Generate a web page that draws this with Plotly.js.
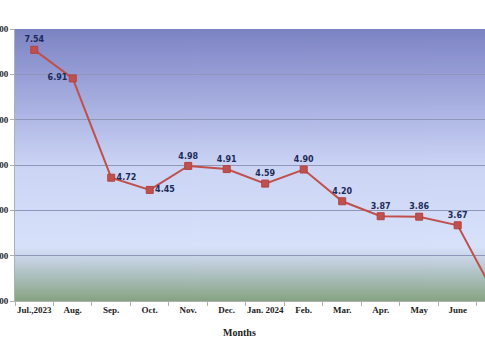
<!DOCTYPE html>
<html>
<head>
<meta charset="utf-8">
<script src="https://cdn.plot.ly/plotly-3.0.1.min.js"></script>
<style>
html,body{margin:0;padding:0;background:#fff;overflow:hidden;}
#chart{width:485px;height:360px;}
</style>
</head>
<body>
<div id="chart"></div>
<script>
// ---- data ----
const months = ["Jul.,2023","Aug.","Sep.","Oct.","Nov.","Dec.","Jan. 2024","Feb.","Mar.","Apr.","May","June","July"];
const values = [7.54, 6.91, 4.72, 4.45, 4.98, 4.91, 4.59, 4.90, 4.20, 3.87, 3.86, 3.67, 2.08];
const yTicks = [2, 3, 4, 5, 6, 7, 8];
const xTitle = "Months";

// ---- background gradient (style only) ----
function gradientURL(){
  const c = document.createElement('canvas');
  c.width = 4; c.height = 272;
  const g = c.getContext('2d');
  const lg = g.createLinearGradient(0,0,0,272);
  lg.addColorStop(0.00,'#7c83c3');
  lg.addColorStop(0.25,'#a3abde');
  lg.addColorStop(0.50,'#cbd4f4');
  lg.addColorStop(0.80,'#d7e1fa');
  lg.addColorStop(0.86,'#c0cedb');
  lg.addColorStop(1.00,'#86a383');
  g.fillStyle = lg; g.fillRect(0,0,4,272);
  return c.toDataURL();
}

const labelPos = ["top center","middle left","middle right","middle right","top center","top center","top center","top center","top center","top center","top center","top center","top center"];
// the last point lies beyond the visible edge, so its label is not drawn
const labels = values.map((v, i) => i < values.length - 1 ? v.toFixed(2) : "");

const trace = {
  type:'scatter', mode:'lines+markers+text',
  x: months, y: values,
  text: labels,
  textposition: labelPos,
  textfont:{family:'DejaVu Sans', size:8, color:'#1c2a58', weight:'bold'},
  line:{color:'#c0504d', width:2},
  marker:{symbol:'square', size:7, color:'#c0504d', line:{color:'#b04440', width:1}},
  cliponaxis:true,
  hoverinfo:'skip'
};

const layout = {
  width:485, height:360,
  margin:{l:15, r:0, t:29, b:59, pad:0},
  paper_bgcolor:'#ffffff',
  plot_bgcolor:'rgba(0,0,0,0)',
  showlegend:false,
  images:[{source:gradientURL(), xref:'paper', yref:'paper', x:0, y:1, sizex:1, sizey:1, sizing:'stretch', xanchor:'left', yanchor:'top', layer:'below'}],
  xaxis:{
    type:'category', range:[-0.5, 11.71], automargin:false,
    tickson:'boundaries', ticks:'outside', ticklen:4, tickcolor:'#b0b0b0',
    showline:true, linecolor:'#b0b0b0', linewidth:1,
    showgrid:false,
    tickfont:{family:'Liberation Serif', size:9, color:'#222', weight:'bold'},
    tickangle:0
  },
  yaxis:{
    range:[2,8], tickvals:yTicks, tickformat:'.2f', automargin:false,
    ticks:'outside', ticklen:4, tickcolor:'#b0b0b0',
    showline:true, linecolor:'#b0b0b0', linewidth:1,
    gridcolor:'#8f96b8', gridwidth:1, zeroline:false,
    tickfont:{family:'Liberation Serif', size:9, color:'#222', weight:'bold'}
  },
  annotations:[{
    text:xTitle, xref:'paper', yref:'paper', x:0.477, y:-0.115, showarrow:false,
    xanchor:'center', yanchor:'middle',
    font:{family:'Liberation Serif', size:10, color:'#222', weight:'bold'}
  }]
};

Plotly.newPlot('chart',[trace],layout,{staticPlot:true, displayModeBar:false});
</script>
</body>
</html>
